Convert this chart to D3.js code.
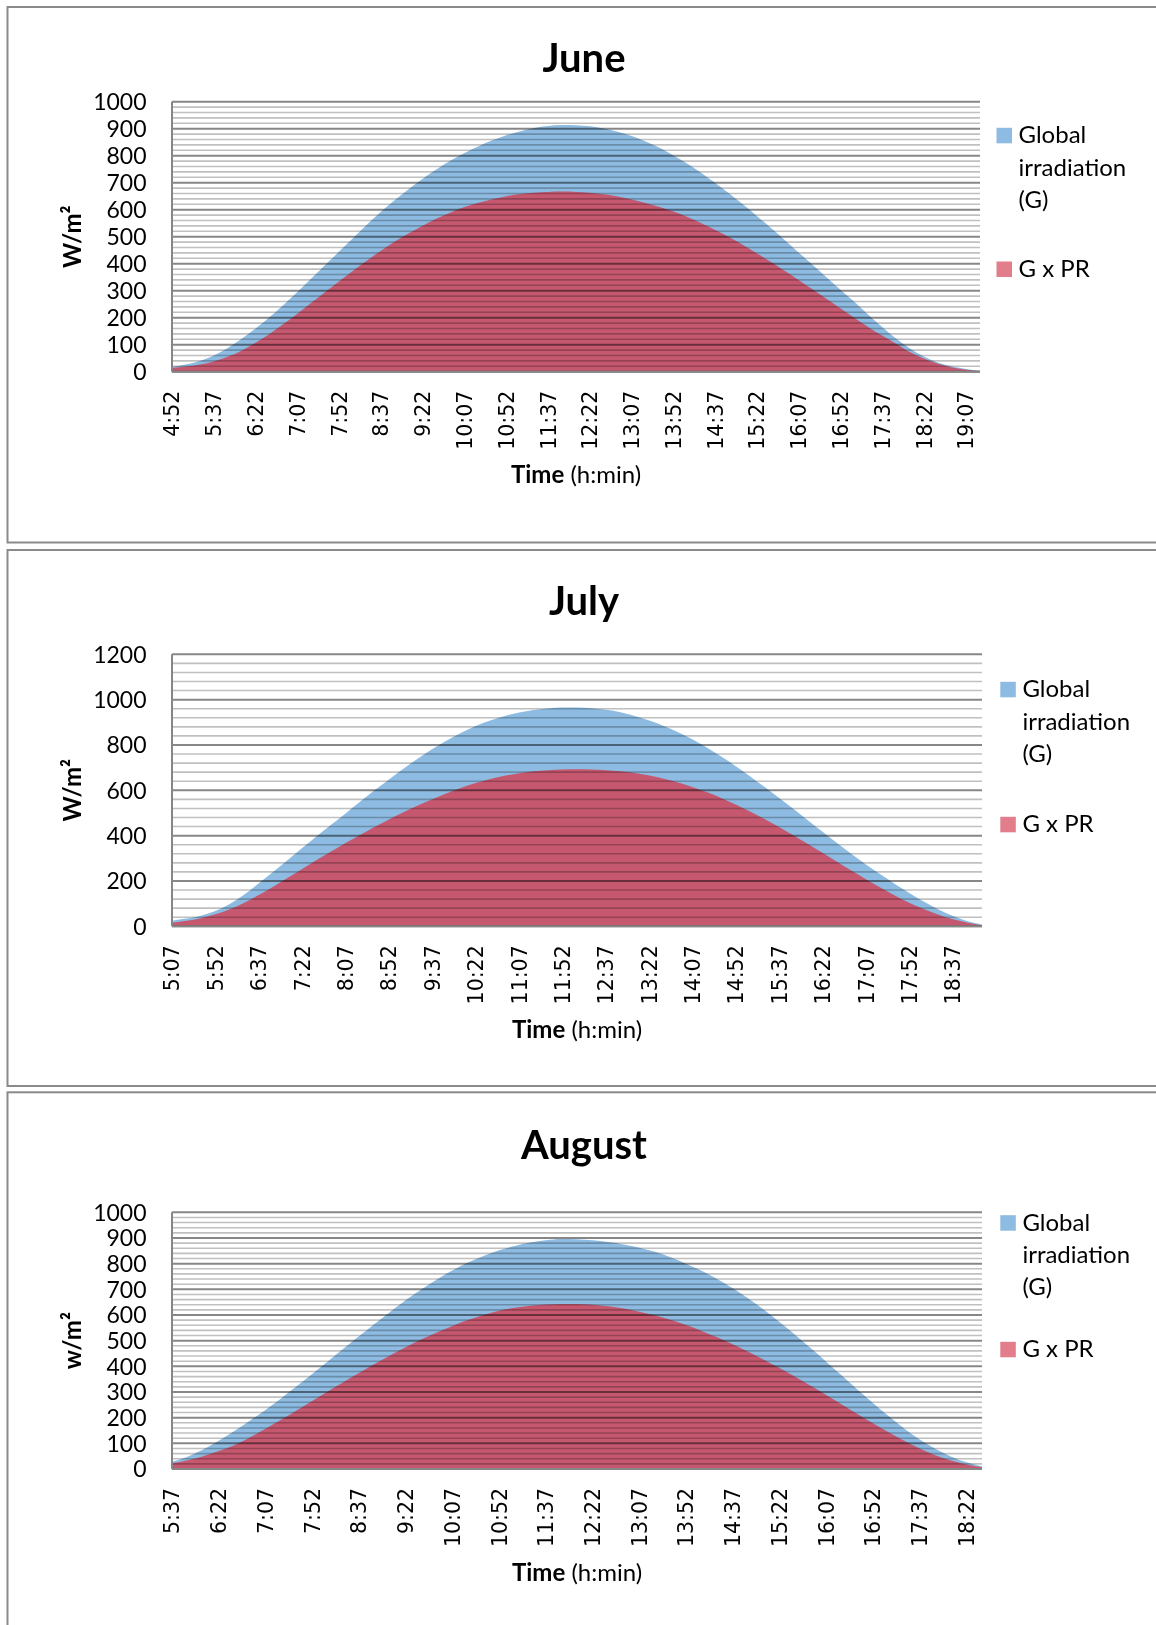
<!DOCTYPE html>
<html>
<head>
<meta charset="utf-8">
<script src="https://cdn.jsdelivr.net/npm/d3@7"></script>
<style>
  html, body { margin: 0; padding: 0; background: #ffffff; }
  svg { display: block; }
</style>
</head>
<body>
<script>
// ---------------- DATA ----------------
const juneCategories = ["4:52","5:07","5:22","5:37","5:52","6:07","6:22","6:37","6:52","7:07","7:22","7:37","7:52","8:07","8:22","8:37","8:52","9:07","9:22","9:37","9:52","10:07","10:22","10:37","10:52","11:07","11:22","11:37","11:52","12:07","12:22","12:37","12:52","13:07","13:22","13:37","13:52","14:07","14:22","14:37","14:52","15:07","15:22","15:37","15:52","16:07","16:22","16:37","16:52","17:07","17:22","17:37","17:52","18:07","18:22","18:37","18:52","19:07","19:22"];
const juneTickLabels = ["4:52","5:37","6:22","7:07","7:52","8:37","9:22","10:07","10:52","11:37","12:22","13:07","13:52","14:37","15:22","16:07","16:52","17:37","18:22","19:07"];
const juneG = [18,27,40,60,88,122,160,202,247,295,345,395,445,495,545,592,636,677,715,750,782,810,835,857,876,891,903,910,914,
               913,909,901,889,873,853,829,801,770,736,699,660,619,576,532,487,441,395,349,303,258,210,165,122,85,55,33,19,10,4];
const juneGPR = [14,19,27,38,55,78,107,140,177,215,255,295,335,374,412,448,482,513,541,567,590,610,626,639,650,658,663,666,667,
                 666,663,657,649,638,625,610,593,573,550,525,498,469,438,406,373,339,304,269,234,199,165,133,103,72,48,29,16,7,2];
const juneYTicks = [0,100,200,300,400,500,600,700,800,900,1000];

const julyCategories = ["5:07","5:22","5:37","5:52","6:07","6:22","6:37","6:52","7:07","7:22","7:37","7:52","8:07","8:22","8:37","8:52","9:07","9:22","9:37","9:52","10:07","10:22","10:37","10:52","11:07","11:22","11:37","11:52","12:07","12:22","12:37","12:52","13:07","13:22","13:37","13:52","14:07","14:22","14:37","14:52","15:07","15:22","15:37","15:52","16:07","16:22","16:37","16:52","17:07","17:22","17:37","17:52","18:07","18:22","18:37","18:52","19:07"];
const julyTickLabels = ["5:07","5:52","6:37","7:22","8:07","8:52","9:37","10:22","11:07","11:52","12:37","13:22","14:07","14:52","15:37","16:22","17:07","17:52","18:37"];
const julyG = [25,34,47,68,98,140,190,241,293,345,397,448,498,549,600,648,695,740,782,820,854,884,908,928,943,954,961,965,965,
               962,955,944,928,908,884,856,824,788,748,705,660,613,565,516,466,416,366,318,272,228,186,146,108,74,45,22,8];
const julyGPR = [16,24,36,53,75,104,138,175,214,253,292,330,367,403,438,471,503,533,561,587,611,632,650,664,675,684,689,692,693,
                 692,689,684,676,665,651,634,614,591,565,536,505,472,437,400,362,323,284,245,207,170,135,103,75,51,31,16,5];
const julyYTicks = [0,200,400,600,800,1000,1200];

const augustCategories = ["5:37","5:52","6:07","6:22","6:37","6:52","7:07","7:22","7:37","7:52","8:07","8:22","8:37","8:52","9:07","9:22","9:37","9:52","10:07","10:22","10:37","10:52","11:07","11:22","11:37","11:52","12:07","12:22","12:37","12:52","13:07","13:22","13:37","13:52","14:07","14:22","14:37","14:52","15:07","15:22","15:37","15:52","16:07","16:22","16:37","16:52","17:07","17:22","17:37","17:52","18:07","18:22","18:37"];
const augustTickLabels = ["5:37","6:22","7:07","7:52","8:37","9:22","10:07","10:52","11:37","12:22","13:07","13:52","14:37","15:22","16:07","16:52","17:37","18:22"];
const augustG = [28,48,76,110,148,188,230,275,322,370,419,468,517,565,612,657,699,738,773,804,830,852,869,882,891,896,
                 895,891,884,875,862,846,825,800,772,740,704,664,620,573,523,471,418,364,310,257,206,158,115,79,49,26,10];
const augustGPR = [22,34,50,70,93,123,157,192,228,265,302,338,374,409,442,474,504,532,557,580,600,616,628,636,641,643,
                   643,640,634,625,613,598,581,561,538,513,486,457,426,393,359,324,288,251,214,178,143,110,80,54,33,18,7];
const augustYTicks = [0,100,200,300,400,500,600,700,800,900,1000];

const seriesNames = ["Global", "irradiation", "(G)"];
const seriesName2 = "G x PR";
const xTitleBold = "Time";
const xTitleRest = " (h:min)";

// ---------------- LAYOUT / STYLE ----------------
const W = 1156, H = 1625;
const FONT = "Lato, 'Open Sans', sans-serif";
const TICKFONT = "'DejaVu Sans', Verdana, sans-serif";
const BLUE = "#8dbbe1";
const RED = "#c5586f";

const charts = [
  { title: "June", cats: juneCategories, ticks: juneTickLabels, g: juneG, gpr: juneGPR,
    yTicks: juneYTicks, yMax: 1000, minor: 20, yTitle: "W/m\u00B2",
    L: { panelTop: 7, panelH: 535.5, plotLeft: 172, plotRight: 980, plotTop: 101.7, plotBottom: 371.7,
         titleY: 71.5, swX: 996.5, txX: 1018.5, leg1: 143.3, leg2: 277 } },
  { title: "July", cats: julyCategories, ticks: julyTickLabels, g: julyG, gpr: julyGPR,
    yTicks: julyYTicks, yMax: 1200, minor: 40, yTitle: "W/m\u00B2",
    L: { panelTop: 550, panelH: 536, plotLeft: 172, plotRight: 982, plotTop: 654.3, plotBottom: 926.3,
         titleY: 615, swX: 1000.3, txX: 1022.4, leg1: 697.3, leg2: 832.3 } },
  { title: "August", cats: augustCategories, ticks: augustTickLabels, g: augustG, gpr: augustGPR,
    yTicks: augustYTicks, yMax: 1000, minor: 20, yTitle: "w/m\u00B2",
    L: { panelTop: 1092.3, panelH: 600, plotLeft: 172, plotRight: 982, plotTop: 1212.3, plotBottom: 1469,
         titleY: 1158.5, swX: 1000.3, txX: 1022.4, leg1: 1230.7, leg2: 1357.3 } }
];

const svg = d3.select("body").append("svg").attr("width", W).attr("height", H);
svg.append("rect").attr("width", W).attr("height", H).attr("fill", "#ffffff");

charts.forEach(c => {
  const L = c.L;
  const g = svg.append("g");

  // panel border
  g.append("rect")
    .attr("x", 7.5).attr("y", L.panelTop)
    .attr("width", 1160).attr("height", L.panelH)
    .attr("fill", "#ffffff").attr("stroke", "#8a8a8a").attr("stroke-width", 2);

  const x = d3.scalePoint().domain(c.cats).range([L.plotLeft, L.plotRight]);
  const y = d3.scaleLinear().domain([0, c.yMax]).range([L.plotBottom, L.plotTop]);

  // areas
  const area = d3.area()
    .x((d, i) => x(c.cats[i]))
    .y0(y(0))
    .y1(d => y(d))
    .curve(d3.curveMonotoneX);

  g.append("path").datum(c.g).attr("d", area).attr("fill", BLUE);
  g.append("path").datum(c.gpr).attr("d", area).attr("fill", RED);

  // gridlines (multiply so they show through the fills)
  const grid = g.append("g").style("mix-blend-mode", "multiply");
  const minorVals = d3.range(0, c.yMax + 0.001, c.minor).filter(v => !c.yTicks.includes(v));
  grid.selectAll("line.minor").data(minorVals).join("line")
    .attr("x1", L.plotLeft).attr("x2", L.plotRight)
    .attr("y1", d => y(d)).attr("y2", d => y(d))
    .attr("stroke", "#c0c0c0").attr("stroke-width", 1.6);
  grid.selectAll("line.major").data(c.yTicks).join("line")
    .attr("x1", L.plotLeft).attr("x2", L.plotRight)
    .attr("y1", d => y(d)).attr("y2", d => y(d))
    .attr("stroke", "#878787").attr("stroke-width", 2);

  // axis lines
  g.append("line").attr("x1", L.plotLeft).attr("x2", L.plotLeft)
    .attr("y1", L.plotTop).attr("y2", L.plotBottom)
    .attr("stroke", "#868686").attr("stroke-width", 2);
  g.append("line").attr("x1", L.plotLeft).attr("x2", L.plotRight)
    .attr("y1", L.plotBottom).attr("y2", L.plotBottom)
    .attr("stroke", "#868686").attr("stroke-width", 2);

  // y tick labels
  g.selectAll("text.ytick").data(c.yTicks).join("text")
    .attr("x", 146.5).attr("y", d => y(d))
    .attr("dy", "0.36em")
    .attr("text-anchor", "end")
    .attr("font-family", FONT).attr("font-size", 23).attr("fill", "#000")
    .text(d => d);

  // x tick labels (rotated)
  g.selectAll("text.xtick").data(c.ticks).join("text")
    .attr("transform", d => `translate(${x(d)},${L.plotBottom + 19}) rotate(-90)`)
    .attr("text-anchor", "end")
    .attr("dy", "0.36em")
    .attr("font-family", TICKFONT).attr("font-size", 20.5).attr("fill", "#000")
    .text(d => d);

  // title
  g.append("text")
    .attr("x", 584).attr("y", L.titleY)
    .attr("text-anchor", "middle")
    .attr("font-family", FONT).attr("font-weight", "bold").attr("font-size", 40)
    .attr("fill", "#000").text(c.title);

  // y title
  g.append("text")
    .attr("transform", `translate(80.5,${(L.plotTop + L.plotBottom) / 2}) rotate(-90)`)
    .attr("text-anchor", "middle")
    .attr("font-family", FONT).attr("font-weight", "bold").attr("font-size", 24)
    .attr("fill", "#000").text(c.yTitle);

  // x title
  const xt = g.append("text")
    .attr("x", (L.plotLeft + L.plotRight) / 2).attr("y", L.plotBottom + 111.5)
    .attr("text-anchor", "middle")
    .attr("font-family", FONT).attr("font-size", 24).attr("fill", "#000");
  xt.append("tspan").attr("font-weight", "bold").text(xTitleBold);
  xt.append("tspan").text(xTitleRest);

  // legend
  g.append("rect").attr("x", L.swX).attr("y", L.leg1 - 15.5).attr("width", 15.5).attr("height", 15.5)
    .attr("fill", BLUE);
  seriesNames.forEach((s, i) => {
    g.append("text").attr("x", L.txX).attr("y", L.leg1 + i * 32.2)
      .attr("font-family", FONT).attr("font-size", 24).attr("fill", "#000").text(s);
  });
  g.append("rect").attr("x", L.swX).attr("y", L.leg2 - 15.5).attr("width", 15.5).attr("height", 15.5)
    .attr("fill", "#e27d8b");
  g.append("text").attr("x", L.txX).attr("y", L.leg2)
    .attr("font-family", FONT).attr("font-size", 24).attr("fill", "#000").text(seriesName2);
});
</script>
</body>
</html>
